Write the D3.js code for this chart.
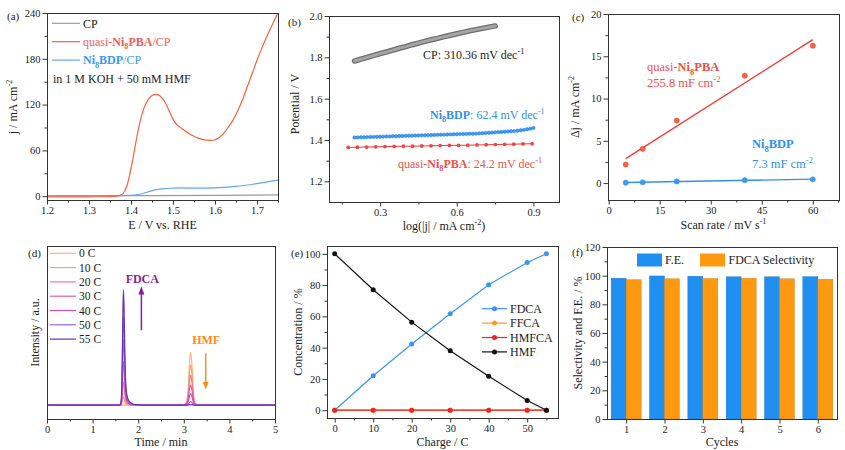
<!DOCTYPE html>
<html><head><meta charset="utf-8">
<script src="https://cdn.jsdelivr.net/npm/d3@7"></script>
<style>
body{margin:0;background:#fff}
text{font-family:"Liberation Serif","Times New Roman",serif;}
</style></head><body>
<svg id="c" width="845" height="450"></svg>
<script>
// ---------- DATA ----------
// (a) LSV
const aPBA_E = [1.20,1.25,1.30,1.35,1.37,1.38,1.39,1.40,1.41,1.42,1.43,1.44,1.45,1.46,1.47,1.48,1.49,1.50,1.51,1.52,1.53,1.54,1.55,1.56,1.57,1.58,1.59,1.60,1.61,1.62,1.63,1.64,1.65,1.66,1.67,1.68,1.69,1.70,1.71,1.72,1.73,1.74,1.75];
const aPBA_j = [-1,-1,-0.8,-0.5,0.5,3,13,36,66,94,114,126,132,133.5,131,124,113,101,93,89,85,81.5,78.5,76,74.5,73.5,73,74,77,82,89,97,107,119,133,148,163,178,192,205,217,229,240];
const aBDP_E = [1.20,1.30,1.38,1.40,1.42,1.44,1.46,1.48,1.50,1.52,1.55,1.60,1.65,1.70,1.75];
const aBDP_j = [0.5,0.6,0.8,1.0,2.5,5.5,8.5,10,10.5,10.8,10.5,10.8,12.8,16.5,21];
const aCP_E = [1.20,1.40,1.60,1.75];
const aCP_j = [0.6,0.8,1.1,1.6];
const aXTicks = [1.2,1.3,1.4,1.5,1.6,1.7];
const aYTicks = [0,60,120,180,240];

// (b) Tafel
const bCP_x = [0.200,0.225,0.250,0.275,0.300,0.325,0.350,0.375,0.400,0.425,0.450,0.475,0.500,0.525,0.550,0.575,0.600,0.625,0.650,0.675,0.700,0.725,0.750];
const bCP_y = [1.782,1.791,1.800,1.809,1.818,1.826,1.835,1.844,1.852,1.861,1.869,1.877,1.885,1.892,1.900,1.907,1.914,1.921,1.928,1.934,1.940,1.946,1.952];
const bBDP_x = [0.200,0.2125,0.225,0.2375,0.250,0.2625,0.275,0.2875,0.300,0.3125,0.325,0.3375,0.350,0.3625,0.375,0.3875,0.400,0.4125,0.425,0.4375,0.450,0.4625,0.475,0.4875,0.500,0.5125,0.525,0.5375,0.550,0.5625,0.575,0.5875,0.600,0.6125,0.625,0.6375,0.650,0.6625,0.675,0.6875,0.700,0.7125,0.725,0.7375,0.750,0.7625,0.775,0.7875,0.800,0.8125,0.825,0.8375,0.850,0.8625,0.875,0.8875,0.900];
const bBDP_y = [1.412,1.4125,1.413,1.4135,1.414,1.4145,1.415,1.4155,1.416,1.4165,1.417,1.4175,1.418,1.4185,1.419,1.4195,1.420,1.4205,1.421,1.4215,1.422,1.4225,1.423,1.4235,1.424,1.4245,1.425,1.4255,1.426,1.4265,1.427,1.4275,1.428,1.4285,1.429,1.4295,1.430,1.4305,1.431,1.432,1.433,1.434,1.435,1.436,1.437,1.438,1.439,1.440,1.441,1.442,1.443,1.445,1.447,1.449,1.452,1.455,1.458];
const bPBA_x = [0.175,0.211,0.247,0.283,0.319,0.355,0.391,0.427,0.463,0.499,0.535,0.571,0.607,0.643,0.679,0.715,0.751,0.787,0.823,0.859,0.895];
const bPBA_y = [1.364,1.365,1.366,1.367,1.368,1.369,1.370,1.370,1.371,1.372,1.373,1.374,1.374,1.375,1.376,1.377,1.378,1.379,1.380,1.381,1.382];
const bXTicks = [0.3,0.6,0.9];
const bYTicks = [1.2,1.4,1.6,1.8,2.0];

// (c) double layer capacitance
const cScan = [5,10,20,40,60];
const cPBA = [2.2,4.05,7.4,12.7,16.25];
const cBDP = [0.05,0.1,0.2,0.35,0.45];
const cXTicks = [0,15,30,45,60];
const cYTicks = [0,5,10,15,20];

// (d) chromatograms
const dLabels = ["0 C","10 C","20 C","30 C","40 C","50 C","55 C"];
const dColors = ["#ffb56b","#f9a07a","#f27a92","#e25aa6","#c84cc6","#a05ee2","#6434b8"];
const dFDCAHeight = [0,7,20,38,57,77,100];
const dHMFHeight = [46,35,26,17.5,10,3,0.5];
const dFDCA_t = [1.55,1.60,1.625,1.645,1.66,1.675,1.69,1.705,1.72,1.74,1.77,1.81,1.87,1.95,2.1];
const dFDCA_rel = [0,0,0.03,0.25,0.7,1,0.85,0.5,0.25,0.12,0.06,0.03,0.012,0.004,0];
const dHMF_t = [2.98,3.04,3.08,3.10,3.125,3.15,3.175,3.20,3.22,3.26,3.32];
const dHMF_rel = [0,0.03,0.15,0.35,0.8,1,0.8,0.4,0.15,0.03,0];
const dXTicks = [0,1,2,3,4,5];

// (e) concentration vs charge
const eCharge = [0,10,20,30,40,50,55];
const eFDCA = [0,22,42.3,61.7,80.2,94.5,100];
const eFFCA = [0,0,0,0,0,0,0];
const eHMFCA = [0,0,0,0,0,0,0];
const eHMF = [100,77,56.3,38,21.7,6.2,0];
const eXTicks = [0,10,20,30,40,50];
const eYTicks = [0,20,40,60,80,100];

// (f) cycles
const fCycles = [1,2,3,4,5,6];
const fFE = [98.2,99.8,99.6,99.2,99.2,99.3];
const fSel = [97.2,97.8,98.0,98.2,97.8,97.5];
const fYTicks = [0,20,40,60,80,100,120];

// ---------- HELPERS ----------
const svg = d3.select("#c");
const AX = "#333";
const TICKFS = 10.5;

function rich(sel, x, y, parts, opts = {}) {
  const size = opts.size || 12;
  const t = sel.append("text").attr("x", x).attr("y", y)
    .attr("font-size", size).attr("fill", opts.fill || "#222");
  if (opts.anchor) t.attr("text-anchor", opts.anchor);
  if (opts.rotate) t.attr("transform", `rotate(-90,${x},${y})`);
  let shift = 0;
  parts.forEach(p => {
    if (typeof p === "string") p = { t: p };
    const s = t.append("tspan").text(p.t);
    const target = p.sub ? size * 0.28 : p.sup ? -size * 0.38 : 0;
    if (target !== shift) { s.attr("dy", target - shift); shift = target; }
    if (p.sub || p.sup) s.attr("font-size", size * 0.68);
    if (p.bold) s.attr("font-weight", "bold");
    if (p.fill) s.attr("fill", p.fill);
  });
  return t;
}

function styleAxis(g) {
  g.selectAll("path").attr("stroke", AX);
  g.selectAll("line").attr("stroke", AX);
  g.selectAll("text").attr("font-size", TICKFS).attr("fill", "#222")
    .attr("font-family", '"Liberation Serif","Times New Roman",serif');
}

function panel(box, xDom, yDom, o) {
  const x = d3.scaleLinear().domain(xDom).range([box.l, box.r]);
  const y = d3.scaleLinear().domain(yDom).range([box.b, box.t]);
  const g = svg.append("g");
  const axG = svg.append("g");
  if (o.xMinor) {
    axG.append("g").attr("transform", `translate(0,${box.b})`)
      .call(d3.axisBottom(x).tickValues(o.xMinor).tickSize(2.5).tickFormat("").tickSizeOuter(0)).call(styleAxis);
  }
  if (o.xMajor) {
    axG.append("g").attr("transform", `translate(0,${box.b})`)
      .call(d3.axisBottom(x).tickValues(o.xMajor).tickSize(4.5).tickPadding(2).tickFormat(o.xFmt || d3.format("d")).tickSizeOuter(0)).call(styleAxis);
  }
  if (o.yMinor) {
    axG.append("g").attr("transform", `translate(${box.l},0)`)
      .call(d3.axisLeft(y).tickValues(o.yMinor).tickSize(2.5).tickFormat("").tickSizeOuter(0)).call(styleAxis);
  }
  if (o.yMajor) {
    axG.append("g").attr("transform", `translate(${box.l},0)`)
      .call(d3.axisLeft(y).tickValues(o.yMajor).tickSize(4.5).tickPadding(2).tickFormat(o.yFmt || d3.format("d")).tickSizeOuter(0)).call(styleAxis);
  }
  axG.append("rect").attr("x", box.l + 0.5).attr("y", box.t + 0.5)
    .attr("width", box.r - box.l).attr("height", box.b - box.t)
    .attr("fill", "none").attr("stroke", AX).attr("stroke-width", 1);
  return { x, y, g, axG };
}

function pairs(xs, ys) { return xs.map((v, i) => [v, ys[i]]); }

// ---------- (a) ----------
{
  const box = { l: 47, r: 278, t: 13, b: 200 };
  const P = panel(box, [1.2, 1.75], [-5, 240], {
    xMajor: aXTicks, xMinor: [1.25,1.35,1.45,1.55,1.65,1.75], xFmt: d3.format(".1f"),
    yMajor: aYTicks, yMinor: [30,90,150,210]
  });
  const line = d3.line().x(d => P.x(d[0])).y(d => P.y(d[1])).curve(d3.curveMonotoneX);
  P.g.append("path").datum(pairs(aCP_E, aCP_j)).attr("d", line).attr("fill", "none").attr("stroke", "#9a9a9a").attr("stroke-width", 1.2);
  P.g.append("path").datum(pairs(aBDP_E, aBDP_j)).attr("d", line).attr("fill", "none").attr("stroke", "#64a6f2").attr("stroke-width", 1.2);
  P.g.append("path").datum(pairs(aPBA_E, aPBA_j)).attr("d", line).attr("fill", "none").attr("stroke", "#f5623c").attr("stroke-width", 1.2);
  // legend
  const leg = [
    { c: "#9a9a9a", parts: [{ t: "CP" }], fill: "#222" },
    { c: "#f5623c", parts: ["quasi-", { t: "Ni", bold: true }, { t: "8", bold: true, sub: true }, { t: "PBA", bold: true }, "/CP"], fill: "#f0605a" },
    { c: "#64a6f2", parts: [{ t: "Ni", bold: true }, { t: "8", bold: true, sub: true }, { t: "BDP", bold: true }, "/CP"], fill: "#3a98f2" }
  ];
  leg.forEach((d, i) => {
    const yy = 23.3 + i * 18.4;
    P.axG.append("line").attr("x1", 52).attr("x2", 80).attr("y1", yy).attr("y2", yy).attr("stroke", d.c).attr("stroke-width", 1.2);
    rich(P.axG, 83, yy + 4.2, d.parts, { size: 12, fill: d.fill });
  });
  rich(P.axG, 53, 82.5, ["in 1 M KOH + 50 mM HMF"], { size: 12 });
  rich(svg, 7, 20, ["(a)"], { size: 11 });
  rich(svg, 162.5, 229, ["E / V vs. RHE"], { size: 12, anchor: "middle" });
  rich(svg, 17, 107, ["j / mA cm", { t: "-2", sup: true }], { size: 12, anchor: "middle", rotate: true });
}

// ---------- (b) ----------
{
  const box = { l: 329, r: 559, t: 16, b: 202 };
  const P = panel(box, [0.1, 1.0], [1.1, 2.0], {
    xMajor: bXTicks, xMinor: [0.15,0.45,0.75], xFmt: d3.format(".1f"),
    yMajor: bYTicks, yMinor: [1.3,1.5,1.7,1.9], yFmt: d3.format(".1f")
  });
  const line = d3.line().x(d => P.x(d[0])).y(d => P.y(d[1]));
  const cp = pairs(bCP_x, bCP_y);
  P.g.append("path").datum(cp).attr("d", line).attr("fill", "none").attr("stroke", "#6e6e6e").attr("stroke-width", 5.5).attr("stroke-linecap", "round");
  P.g.append("path").datum(cp).attr("d", line).attr("fill", "none").attr("stroke", "#a5a5a5").attr("stroke-width", 3).attr("stroke-linecap", "round");
  const bdp = pairs(bBDP_x, bBDP_y);
  P.g.append("path").datum(bdp).attr("d", line).attr("fill", "none").attr("stroke", "#2f90f0").attr("stroke-width", 1);
  P.g.selectAll(".bd").data(bdp).join("circle").attr("cx", d => P.x(d[0])).attr("cy", d => P.y(d[1])).attr("r", 1.7).attr("fill", "#3d9bf5").attr("stroke", "#1f7fe0").attr("stroke-width", 0.5);
  const pba = pairs(bPBA_x, bPBA_y);
  P.g.append("path").datum(pba).attr("d", line).attr("fill", "none").attr("stroke", "#f03a3a").attr("stroke-width", 1);
  P.g.selectAll(".pb").data(pba).join("circle").attr("cx", d => P.x(d[0])).attr("cy", d => P.y(d[1])).attr("r", 1.9).attr("fill", "#f04545");
  rich(P.axG, 423, 59, ["CP:  310.36 mV dec", { t: "-1", sup: true }], { size: 12, fill: "#222" });
  rich(P.axG, 430, 119, [{ t: "Ni", bold: true }, { t: "8", bold: true, sub: true }, { t: "BDP", bold: true }, ": 62.4 mV dec", { t: "-1", sup: true }], { size: 12, fill: "#2f90f0" });
  rich(P.axG, 398, 167.5, ["quasi-", { t: "Ni", bold: true }, { t: "8", bold: true, sub: true }, { t: "PBA", bold: true }, ": 24.2 mV dec", { t: "-1", sup: true }], { size: 12, fill: "#f0504a" });
  rich(svg, 288, 25.5, ["(b)"], { size: 11 });
  rich(svg, 444, 230, ["log(|j| / mA cm", { t: "-2", sup: true }, ")"], { size: 12, anchor: "middle" });
  rich(svg, 299, 104, ["Potential / V"], { size: 12, anchor: "middle", rotate: true });
}

// ---------- (c) ----------
{
  const box = { l: 608, r: 839, t: 14, b: 200 };
  const P = panel(box, [-0.2, 67.7], [-2, 20], {
    xMajor: cXTicks, xMinor: [7.5,22.5,37.5,52.5,67.5],
    yMajor: cYTicks, yMinor: [2.5,7.5,12.5,17.5]
  });
  function fit(xs, ys) {
    const mx = d3.mean(xs), my = d3.mean(ys);
    const sxy = d3.sum(xs, (v, i) => (v - mx) * (ys[i] - my));
    const sxx = d3.sum(xs, v => (v - mx) * (v - mx));
    const k = sxy / sxx; return [k, my - k * mx];
  }
  [[cPBA, "#f03a32", "#f56446"], [cBDP, "#2f90f0", "#3d9bf5"]].forEach(([ys, lc, pc]) => {
    const [k, b0] = fit(cScan, ys);
    const x0 = cScan[0], x1 = cScan[cScan.length - 1];
    P.g.append("line").attr("x1", P.x(x0)).attr("x2", P.x(x1)).attr("y1", P.y(k * x0 + b0)).attr("y2", P.y(k * x1 + b0)).attr("stroke", lc).attr("stroke-width", 1.3);
    P.g.selectAll(null).data(pairs(cScan, ys)).join("circle").attr("cx", d => P.x(d[0])).attr("cy", d => P.y(d[1])).attr("r", 2.6).attr("fill", pc).attr("stroke", lc).attr("stroke-width", 0.5);
  });
  rich(P.axG, 647, 71, ["quasi-", { t: "Ni", bold: true }, { t: "8", bold: true, sub: true }, { t: "PBA", bold: true }], { size: 12.5, fill: "#f0504a" });
  rich(P.axG, 647, 86.5, ["255.8 mF cm", { t: "-2", sup: true }], { size: 12.5, fill: "#f0504a" });
  rich(P.axG, 752, 148, [{ t: "Ni", bold: true }, { t: "8", bold: true, sub: true }, { t: "BDP", bold: true }], { size: 12.5, fill: "#2f90f0" });
  rich(P.axG, 752, 168, ["7.3 mF cm", { t: "-2", sup: true }], { size: 12.5, fill: "#2f90f0" });
  rich(svg, 572, 21, ["(c)"], { size: 11 });
  rich(svg, 723.5, 229, ["Scan rate / mV s", { t: "-1", sup: true }], { size: 12, anchor: "middle" });
  rich(svg, 579, 107, ["\u0394j / mA cm", { t: "-2", sup: true }], { size: 12, anchor: "middle", rotate: true });
}

// ---------- (d) ----------
{
  const box = { l: 47, r: 275, t: 246, b: 419 };
  const P = panel(box, [0, 5], [-12, 138], {
    xMajor: dXTicks, xMinor: [0.5,1.5,2.5,3.5,4.5]
  });
  const line = d3.line().x(d => P.x(d[0])).y(d => P.y(d[1])).curve(d3.curveMonotoneX);
  dLabels.forEach((lab, i) => {
    const pts = [[0, 0]];
    dFDCA_t.forEach((t, j) => pts.push([t, dFDCA_rel[j] * dFDCAHeight[i]]));
    dHMF_t.forEach((t, j) => pts.push([t, dHMF_rel[j] * dHMFHeight[i]]));
    pts.push([5, 0]);
    P.g.append("path").datum(pts).attr("d", line).attr("fill", "none").attr("stroke", dColors[i]).attr("stroke-width", 1.2);
    const yy = 253.3 + i * 14.3;
    P.axG.append("line").attr("x1", 50).attr("x2", 76).attr("y1", yy).attr("y2", yy).attr("stroke", dColors[i]).attr("stroke-width", 1.2);
    rich(P.axG, 79, yy + 4, [lab], { size: 11.5 });
  });
  // arrows
  const ax1 = P.x(2.07);
  P.axG.append("line").attr("x1", ax1).attr("x2", ax1).attr("y1", P.y(65)).attr("y2", P.y(97)).attr("stroke", "#8a1f9a").attr("stroke-width", 1.5);
  P.axG.append("path").attr("d", `M${ax1 - 3},${P.y(96)} L${ax1},${P.y(103)} L${ax1 + 3},${P.y(96)} Z`).attr("fill", "#8a1f9a");
  rich(P.axG, P.x(2.09), 283, [{ t: "FDCA", bold: true }], { size: 12, fill: "#8a1f9a", anchor: "middle" });
  const ax2 = P.x(3.48);
  P.axG.append("line").attr("x1", ax2).attr("x2", ax2).attr("y1", P.y(45)).attr("y2", P.y(19)).attr("stroke", "#ff8c1a").attr("stroke-width", 1.5);
  P.axG.append("path").attr("d", `M${ax2 - 3},${P.y(20)} L${ax2},${P.y(13.5)} L${ax2 + 3},${P.y(20)} Z`).attr("fill", "#ff8c1a");
  rich(P.axG, P.x(3.49), 344, [{ t: "HMF", bold: true }], { size: 12, fill: "#ff8c1a", anchor: "middle" });
  rich(svg, 28, 256.5, ["(d)"], { size: 11 });
  rich(svg, 161, 445.5, ["Time / min"], { size: 12, anchor: "middle" });
  rich(svg, 39, 332.5, ["Intensity / a.u."], { size: 12, anchor: "middle", rotate: true });
}

// ---------- (e) ----------
{
  const box = { l: 327, r: 558, t: 246, b: 418 };
  const P = panel(box, [-2, 58], [-5, 105], {
    xMajor: eXTicks, xMinor: [5,15,25,35,45,55],
    yMajor: eYTicks, yMinor: [10,30,50,70,90]
  });
  const line = d3.line().x(d => P.x(d[0])).y(d => P.y(d[1]));
  const series = [
    { n: "FDCA", v: eFDCA, c: "#3896f2" },
    { n: "FFCA", v: eFFCA, c: "#ff9a22" },
    { n: "HMFCA", v: eHMFCA, c: "#f02222" },
    { n: "HMF", v: eHMF, c: "#111111" }
  ];
  series.forEach((s, i) => {
    const pts = pairs(eCharge, s.v);
    P.g.append("path").datum(pts).attr("d", line).attr("fill", "none").attr("stroke", s.c).attr("stroke-width", 1.2);
    P.g.selectAll(null).data(pts).join("circle").attr("cx", d => P.x(d[0])).attr("cy", d => P.y(d[1])).attr("r", 2.5).attr("fill", s.c);
    const yy = 308.7 + i * 14.4;
    P.axG.append("line").attr("x1", 482).attr("x2", 507).attr("y1", yy).attr("y2", yy).attr("stroke", s.c).attr("stroke-width", 1.2);
    P.axG.append("circle").attr("cx", 494.5).attr("cy", yy).attr("r", 2.5).attr("fill", s.c);
    rich(P.axG, 510, yy + 4.2, [s.n], { size: 12 });
  });
  rich(svg, 291, 256.5, ["(e)"], { size: 11 });
  rich(svg, 442.5, 445.5, ["Charge / C"], { size: 12, anchor: "middle" });
  rich(svg, 302, 332, ["Concentration / %"], { size: 12, anchor: "middle", rotate: true });
}

// ---------- (f) ----------
{
  const box = { l: 607, r: 837, t: 247, b: 419 };
  const P = panel(box, [0.5, 6.5], [0, 120], {
    xMajor: fCycles,
    yMajor: fYTicks, yMinor: [10,30,50,70,90,110]
  });
  const bw = 15;
  P.g.selectAll(".fe").data(pairs(fCycles, fFE)).join("rect")
    .attr("x", d => P.x(d[0]) - bw).attr("width", bw)
    .attr("y", d => P.y(d[1])).attr("height", d => P.y(0) - P.y(d[1]))
    .attr("fill", "#1f8ff2").attr("stroke", "#1a70c0").attr("stroke-width", 0.4);
  P.g.selectAll(".se").data(pairs(fCycles, fSel)).join("rect")
    .attr("x", d => P.x(d[0])).attr("width", bw)
    .attr("y", d => P.y(d[1])).attr("height", d => P.y(0) - P.y(d[1]))
    .attr("fill", "#ff9a10").attr("stroke", "#c87a10").attr("stroke-width", 0.4);
  P.axG.append("rect").attr("x", 637).attr("y", 253.5).attr("width", 25).attr("height", 13).attr("fill", "#1f8ff2");
  rich(P.axG, 665, 264, ["F.E."], { size: 12 });
  P.axG.append("rect").attr("x", 700).attr("y", 253.5).attr("width", 25).attr("height", 13).attr("fill", "#ff9a10");
  rich(P.axG, 728.5, 264, ["FDCA Selectivity"], { size: 12 });
  rich(svg, 572, 255.5, ["(f)"], { size: 11 });
  rich(svg, 722, 446, ["Cycles"], { size: 12, anchor: "middle" });
  rich(svg, 582, 333, ["Selectivity and F.E. / %"], { size: 12, anchor: "middle", rotate: true });
}
</script>
</body></html>
